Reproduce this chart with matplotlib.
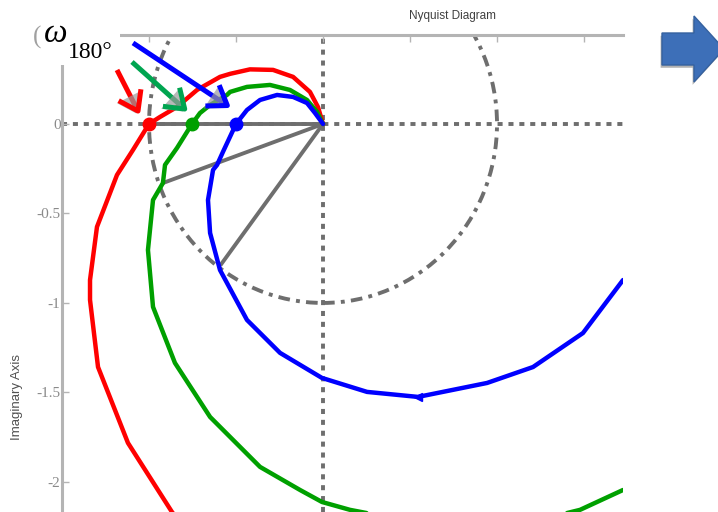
import matplotlib
matplotlib.use("Agg")
import matplotlib.pyplot as plt
import matplotlib.patheffects as pe
from matplotlib.patches import Circle, FancyArrow, Rectangle
from matplotlib.transforms import offset_copy

red_re = [0.0, -0.029, -0.075, -0.172, -0.287, -0.42, -0.534, -0.592, -0.724, -0.839, -0.937,
          -1.0, -1.092, -1.184, -1.299, -1.339, -1.339, -1.293, -1.121, -0.868, -0.80]
red_im = [0.0, 0.095, 0.179, 0.263, 0.302, 0.305, 0.28, 0.263, 0.19, 0.095, 0.039,
          0.0, -0.145, -0.285, -0.575, -0.872, -0.983, -1.358, -1.782, -2.168, -2.25]

green_re = [0.0, -0.034, -0.092, -0.19, -0.305, -0.437, -0.534, -0.552, -0.649, -0.707, -0.753,
            -0.839, -0.908, -0.92, -0.977, -1.006, -0.977, -0.851, -0.649, -0.362, -0.132,
            -0.006, 0.155, 0.5, 0.9, 1.25, 1.477, 1.724]
green_im = [0.0, 0.067, 0.134, 0.19, 0.218, 0.207, 0.179, 0.162, 0.106, 0.061, 0.0,
            -0.134, -0.229, -0.33, -0.425, -0.704, -1.022, -1.335, -1.637, -1.916, -2.045,
            -2.112, -2.156, -2.22, -2.25, -2.21, -2.156, -2.045]

blue_re = [0.0, -0.046, -0.092, -0.172, -0.264, -0.362, -0.437, -0.5, -0.575, -0.609, -0.632,
           -0.661, -0.649, -0.592, -0.552, -0.437, -0.247, -0.006, 0.253, 0.546, 0.943, 1.207,
           1.494, 1.724]
blue_im = [0.0, 0.061, 0.117, 0.151, 0.162, 0.134, 0.078, 0.0, -0.156, -0.229, -0.257,
           -0.425, -0.609, -0.816, -0.888, -1.095, -1.279, -1.419, -1.497, -1.525, -1.447, -1.358,
           -1.168, -0.872]

# phase crossover points (omega_180) on the negative real axis
cross_re = [-1.0, -0.753, -0.5]
curve_colors = ["#ff0000", "#00a000", "#0000ff"]
pointer_colors = ["#ff0000", "#00a550", "#0000ff"]

# gray radius lines from the origin to the unit circle
margin_re = [-1.0, -0.92, -0.59]
margin_im = [0.0, -0.33, -0.79]

xtick_vals = [-1, -0.5, 0, 0.5, 1, 1.5]
ytick_vals = [0, -0.5, -1, -1.5, -2]
ytick_labels = ["0", "-0.5", "-1", "-1.5", "-2"]

W, H = 718, 512
fig = plt.figure(figsize=(W / 100, H / 100), dpi=100)
ax = fig.add_axes([62 / W, 0, (623 - 62) / W, (512 - 35) / H])
ax.set_xlim(-1.5, 1.724)
ax.set_ylim(-2.168, 0.497)

grid_gray = "#6e6e6e"
ax.axhline(0, color=grid_gray, lw=2.8, ls=(0, (1.3, 1.5)), dash_capstyle="butt", zorder=1)
ax.axvline(0, color=grid_gray, lw=2.8, ls=(0, (1.3, 1.5)), dash_capstyle="butt", zorder=1)

ax.add_patch(Circle((0, 0), 1, fill=False, ec=grid_gray, lw=2.8,
                    ls=(0, (3, 1.6, 1, 1.6)), zorder=2))

for mr, mi in zip(margin_re, margin_im):
    ax.plot([0, mr], [0, mi], color=grid_gray, lw=2.8, solid_capstyle="butt", zorder=3)

for re, im, c in zip([red_re, green_re, blue_re], [red_im, green_im, blue_im], curve_colors):
    ax.plot(re, im, color=c, lw=3.2, solid_joinstyle="round", solid_capstyle="round", zorder=4)

ax.plot(blue_re[19], blue_im[19], marker="<", color="#0000ff", ms=6, zorder=5)

for x, c in zip(cross_re, curve_colors):
    ax.plot(x, 0, "o", color=c, ms=9, zorder=5)

# pointer arrows (tip offset from the dot, tail offset from the tip, in pixels)
tip_off = [(-9, 9), (-4, 12), (-5, 16)]
tail_off = [(-23, 45), (-56, 50), (-98, 65)]
for x, c, (tx, ty), tail in zip(cross_re, pointer_colors, tip_off, tail_off):
    tr = offset_copy(ax.transData, fig=fig, x=tx, y=ty, units="dots")
    an = ax.annotate("", xy=(x, 0), xycoords=tr, xytext=tail, textcoords="offset pixels",
                     arrowprops=dict(arrowstyle="->,head_length=0.65,head_width=0.45",
                                     color=c, lw=3.6, mutation_scale=20, shrinkA=0, shrinkB=0,
                                     joinstyle="round", capstyle="butt"),
                     annotation_clip=False, zorder=6)
    an.arrow_patch.set_path_effects([pe.SimplePatchShadow(offset=(-1.2, -1.8), shadow_rgbFace="#9a9a9a", alpha=0.7),
                                     pe.Normal()])

spine_gray = "#b4b4b4"
for side in ["right", "bottom"]:
    ax.spines[side].set_visible(False)
for side in ["top", "left"]:
    ax.spines[side].set_color(spine_gray)
    ax.spines[side].set_linewidth(2.2)

ax.xaxis.set_ticks_position("top")
ax.set_xticks(xtick_vals)
ax.tick_params(axis="x", direction="in", length=5, width=1, colors=spine_gray, labeltop=False)
ax.set_yticks(ytick_vals)
ax.set_yticklabels(ytick_labels, family="Liberation Serif", fontsize=11, color="#8a8a8a")
ax.tick_params(axis="y", direction="in", length=5, width=1, color=spine_gray, pad=1)

fig.text(452 / W, 1 - 16 / H, "Nyquist Diagram", ha="center", va="center",
         fontsize=8.5, color="#404040", family="Liberation Sans")
fig.text(17 / W, 1 - 397 / H, "Imaginary Axis", ha="center", va="center", rotation=90,
         fontsize=9.5, color="#505050", family="Liberation Sans")

# white label box in the top-left corner
fig.patches.append(Rectangle((0, 1 - 65 / H), 120 / W, 65 / H, transform=fig.transFigure,
                             fc="white", ec="none", zorder=10))
fig.text(33 / W, 1 - 44 / H, "(", fontsize=18, color="#a0a0a0", family="Liberation Serif",
         va="baseline", zorder=11)
fig.text(44 / W, 1 - 42 / H, "\u03c9", fontsize=24, style="italic", family="Liberation Serif",
         color="black", va="baseline", zorder=11)
fig.text(68 / W, 1 - 58 / H, "180\u00b0", fontsize=17, family="Liberation Serif",
         color="black", va="baseline", zorder=11)

# block arrow on the right
blk = FancyArrow(662, H - 49, 62, 0, width=32, head_width=66, head_length=30,
                 length_includes_head=True, transform=None, fc="#3d6fb8", ec="#35619f", lw=1)
blk.set_path_effects([pe.SimplePatchShadow(offset=(-1, -2), shadow_rgbFace="#909090", alpha=0.7),
                      pe.Normal()])
fig.patches.append(blk)

fig.savefig("out.png", dpi=100)
